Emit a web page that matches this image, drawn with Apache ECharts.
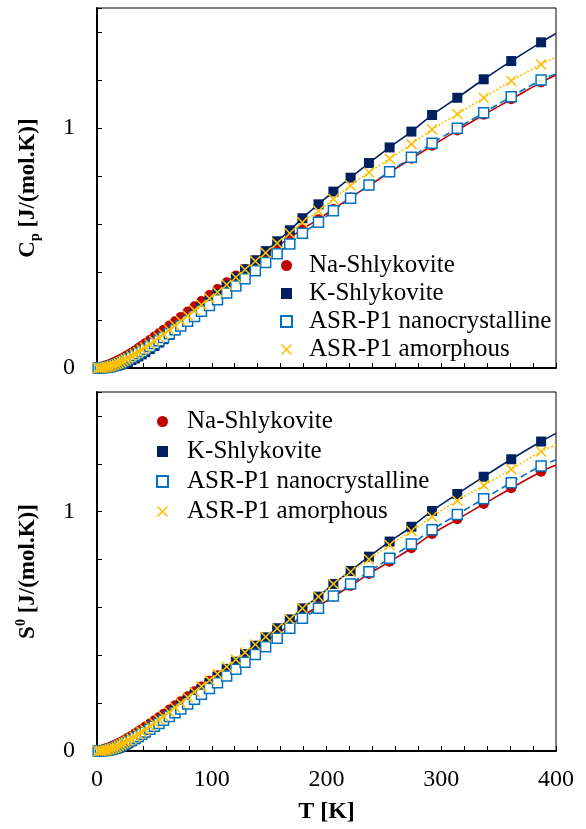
<!DOCTYPE html>
<html>
<head>
<meta charset="utf-8">
<script src="https://cdn.jsdelivr.net/npm/echarts@6/dist/echarts.min.js"></script>
<style>
  html, body { margin: 0; padding: 0; background: #fff; }
  #chart { width: 586px; height: 829px; }
</style>
</head>
<body>
<div id="chart"></div>
<script>
// temperatures of the measured points [K]
const temps = [1, 3, 5, 7, 9, 11, 13, 15, 17, 19, 21, 23, 25, 27, 30, 33, 36, 39, 42, 46,
  50, 54, 58, 63, 68, 73, 79, 85, 91, 98, 105, 113, 121, 129, 138, 147, 157, 168, 179, 193,
  206, 221, 237, 255, 274, 292, 314, 337, 361, 387];

// heat capacity, top panel
const cpNa = [0.001, 0.003, 0.006, 0.010, 0.013, 0.017, 0.021, 0.025, 0.029, 0.034, 0.039, 0.044, 0.049, 0.055, 0.064, 0.073, 0.083, 0.093, 0.103, 0.117,
  0.131, 0.145, 0.159, 0.177, 0.195, 0.213, 0.235, 0.257, 0.279, 0.304, 0.329, 0.357, 0.385, 0.413, 0.444, 0.474, 0.507, 0.543, 0.578, 0.620,
  0.662, 0.710, 0.760, 0.815, 0.872, 0.926, 0.990, 1.055, 1.120, 1.190];
const cpK = [0, 0, 0.001, 0.001, 0.002, 0.003, 0.005, 0.007, 0.009, 0.012, 0.015, 0.018, 0.022, 0.026, 0.033, 0.040, 0.048, 0.057, 0.066, 0.079,
  0.092, 0.106, 0.120, 0.138, 0.157, 0.176, 0.200, 0.224, 0.250, 0.279, 0.309, 0.343, 0.377, 0.411, 0.449, 0.487, 0.528, 0.574, 0.624, 0.682,
  0.735, 0.793, 0.854, 0.919, 0.985, 1.054, 1.126, 1.203, 1.279, 1.357];
const cpNano = [0, 0, 0.001, 0.002, 0.003, 0.005, 0.008, 0.011, 0.014, 0.018, 0.022, 0.027, 0.032, 0.037, 0.044, 0.052, 0.060, 0.069, 0.078, 0.090,
  0.102, 0.114, 0.127, 0.143, 0.159, 0.175, 0.195, 0.215, 0.236, 0.260, 0.284, 0.312, 0.342, 0.372, 0.405, 0.440, 0.476, 0.517, 0.561, 0.607,
  0.655, 0.707, 0.762, 0.818, 0.878, 0.936, 0.999, 1.064, 1.130, 1.200];
const cpAmor = [0, 0, 0.001, 0.002, 0.004, 0.006, 0.009, 0.012, 0.016, 0.020, 0.025, 0.030, 0.035, 0.041, 0.049, 0.058, 0.067, 0.076, 0.086, 0.099,
  0.113, 0.127, 0.141, 0.159, 0.177, 0.196, 0.218, 0.240, 0.263, 0.290, 0.316, 0.347, 0.378, 0.410, 0.445, 0.480, 0.520, 0.561, 0.607, 0.654,
  0.704, 0.760, 0.815, 0.872, 0.933, 0.994, 1.058, 1.126, 1.196, 1.265];
// fit curves at 400 K (Na, K, nano, amorphous)
const cpFitEnd = [1.221, 1.394, 1.225, 1.294];

// entropy, bottom panel
const s0Na = [0.001, 0.003, 0.006, 0.010, 0.013, 0.017, 0.021, 0.025, 0.029, 0.034, 0.039, 0.044, 0.049, 0.055, 0.064, 0.073, 0.082, 0.092, 0.102, 0.115,
  0.128, 0.142, 0.156, 0.173, 0.191, 0.208, 0.229, 0.250, 0.270, 0.294, 0.317, 0.344, 0.371, 0.398, 0.428, 0.458, 0.490, 0.525, 0.563, 0.605,
  0.645, 0.690, 0.740, 0.791, 0.847, 0.907, 0.968, 1.032, 1.098, 1.167];
const s0K = [0, 0, 0, 0.001, 0.002, 0.003, 0.005, 0.007, 0.010, 0.013, 0.017, 0.022, 0.027, 0.032, 0.040, 0.049, 0.058, 0.068, 0.078, 0.092,
  0.106, 0.120, 0.134, 0.152, 0.170, 0.188, 0.211, 0.234, 0.257, 0.284, 0.311, 0.342, 0.373, 0.405, 0.440, 0.475, 0.513, 0.550, 0.596, 0.645,
  0.698, 0.752, 0.812, 0.875, 0.937, 1.003, 1.074, 1.146, 1.219, 1.293];
const s0Nano = [0, 0, 0.001, 0.002, 0.003, 0.005, 0.008, 0.011, 0.015, 0.019, 0.023, 0.028, 0.033, 0.038, 0.045, 0.053, 0.061, 0.070, 0.079, 0.091,
  0.103, 0.115, 0.128, 0.144, 0.160, 0.176, 0.196, 0.216, 0.237, 0.261, 0.285, 0.313, 0.342, 0.371, 0.403, 0.436, 0.471, 0.513, 0.555, 0.596,
  0.648, 0.698, 0.749, 0.805, 0.865, 0.924, 0.988, 1.054, 1.121, 1.191];
const s0Amor = [0, 0, 0.001, 0.002, 0.004, 0.007, 0.010, 0.013, 0.017, 0.022, 0.027, 0.032, 0.037, 0.043, 0.051, 0.060, 0.069, 0.079, 0.089, 0.103,
  0.117, 0.131, 0.145, 0.163, 0.182, 0.201, 0.224, 0.247, 0.270, 0.296, 0.322, 0.352, 0.382, 0.412, 0.445, 0.477, 0.512, 0.550, 0.596, 0.645,
  0.698, 0.749, 0.801, 0.861, 0.919, 0.979, 1.046, 1.110, 1.177, 1.251];
const s0FitEnd = [1.195, 1.327, 1.216, 1.279];

const names = ['Na-Shlykovite', 'K-Shlykovite', 'ASR-P1 nanocrystalline', 'ASR-P1 amorphous'];
const colors = ['#C00000', '#002060', '#0070C0', '#FFC000'];
const serif = "'Liberation Serif', 'Times New Roman', serif";
const crossPath = 'path://M0,1L1,0L5,4L9,0L10,1L6,5L10,9L9,10L5,6L1,10L0,9L4,5Z';

const myChart = echarts.init(document.getElementById('chart'), null, { renderer: 'canvas' });

function pts(arr) {
  return temps.map((t, i) => [t, arr[i]]);
}

function panelSeries(idx, sets, ends) {
  let out = [];
  const lineTypes = ['solid', 'solid', [7, 4], [2, 2]];
  sets.forEach((arr, i) => {
    out.push({
      name: 'fit ' + i,
      type: 'line',
      xAxisIndex: idx,
      yAxisIndex: idx,
      data: pts(arr).concat([[400, ends[i]]]),
      smooth: true,
      showSymbol: false,
      symbol: 'none',
      silent: true,
      lineStyle: { color: colors[i], width: 1.6, type: lineTypes[i] },
      z: 2
    });
  });
  const symbols = ['circle', 'rect', 'rect', crossPath];
  sets.forEach((arr, i) => {
    let itemStyle = { color: colors[i], opacity: 1 };
    if (i === 2) itemStyle = { color: '#fff', borderColor: colors[i], borderWidth: 1.5, opacity: 1 };
    out.push({
      name: names[i],
      type: 'scatter',
      xAxisIndex: idx,
      yAxisIndex: idx,
      data: pts(arr),
      symbol: symbols[i],
      symbolSize: i === 3 ? 11 : 10,
      itemStyle: itemStyle,
      z: 3
    });
  });
  return out;
}

function yAxis(idx, name) {
  return {
    type: 'value',
    gridIndex: idx,
    min: 0,
    max: 1.5,
    interval: 0.2,
    name: name,
    nameLocation: 'middle',
    nameGap: 55,
    nameTextStyle: {
      rich: {
        m: { fontFamily: serif, fontSize: 23, fontWeight: 'bold', color: '#000', lineHeight: 28 },
        sub: { fontFamily: serif, fontSize: 14, fontWeight: 'bold', color: '#000', lineHeight: 12, verticalAlign: 'bottom' },
        sup: { fontFamily: serif, fontSize: 14, fontWeight: 'bold', color: '#000', lineHeight: 12, verticalAlign: 'top' }
      }
    },
    axisLine: { show: true, lineStyle: { color: '#000', width: 2 } },
    axisTick: { show: true, inside: true, length: 5, lineStyle: { color: '#000', width: 1 } },
    splitLine: { show: false },
    axisLabel: {
      margin: 22,
      fontFamily: serif,
      fontSize: 24,
      color: '#000',
      formatter: function (v) {
        if (v === 0) return '0';
        if (Math.abs(v - 1) < 1e-6) return '1';
        return '';
      }
    }
  };
}

function xAxis(idx, showLabels) {
  return {
    type: 'value',
    gridIndex: idx,
    min: 0,
    max: 400,
    interval: 20,
    name: showLabels ? 'T [K]' : '',
    nameLocation: 'middle',
    nameGap: 49,
    nameTextStyle: { fontFamily: serif, fontSize: 24, fontWeight: 'bold', color: '#000' },
    axisLine: { show: true, lineStyle: { color: '#000', width: 2 } },
    axisTick: { show: true, inside: true, length: 5, lineStyle: { color: '#000', width: 1 } },
    splitLine: { show: false },
    axisLabel: {
      show: showLabels,
      margin: 17,
      fontFamily: serif,
      fontSize: 24,
      color: '#000',
      formatter: function (v) {
        return v % 100 === 0 ? String(v) : '';
      }
    }
  };
}

function legend(left, top, textPad, gap) {
  return {
    orient: 'vertical',
    left: left,
    top: top,
    itemWidth: 11,
    itemHeight: 11,
    itemGap: gap,
    selectedMode: false,
    data: names,
    textStyle: { fontFamily: serif, fontSize: 25, color: '#000', padding: [0, 0, 0, textPad] }
  };
}

let option = {
  animation: false,
  backgroundColor: '#fff',
  grid: [
    { left: 97, top: 8, width: 459, height: 360, show: true, borderColor: '#000', borderWidth: 1 },
    { left: 97, top: 392, width: 459, height: 359, show: true, borderColor: '#000', borderWidth: 1 }
  ],
  legend: [
    legend(275, 248, 12, 3),
    legend(151, 404, 14, 5)
  ],
  xAxis: [xAxis(0, false), xAxis(1, true)],
  yAxis: [
    yAxis(0, '{m|C}{sub|p}{m| [J/(mol.K)]}'),
    yAxis(1, '{m|S}{sup|0}{m| [J/(mol.K)]}')
  ],
  series: panelSeries(0, [cpNa, cpK, cpNano, cpAmor], cpFitEnd)
    .concat(panelSeries(1, [s0Na, s0K, s0Nano, s0Amor], s0FitEnd))
};

myChart.setOption(option);
</script>
</body>
</html>
